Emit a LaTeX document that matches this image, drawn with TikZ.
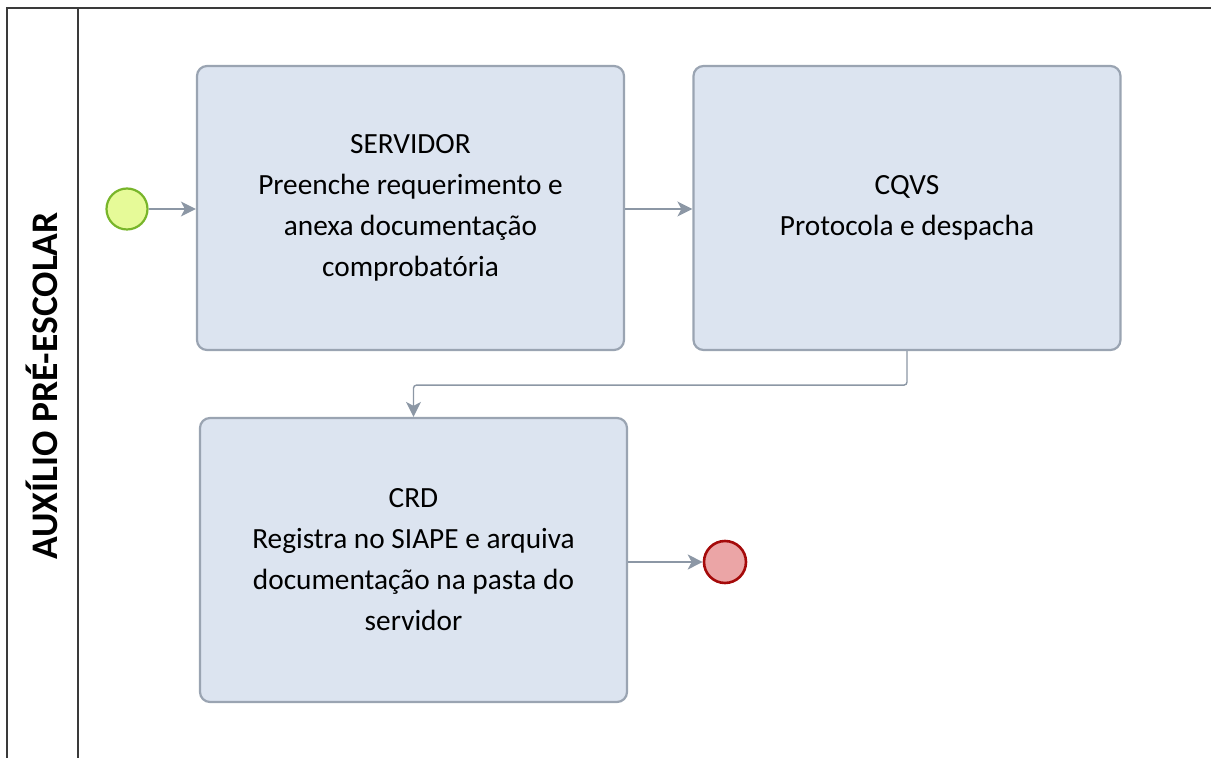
\documentclass[tikz,border=0pt]{standalone}
\usepackage{fontspec}
\setmainfont{Carlito}
\usetikzlibrary{arrows.meta}
\definecolor{boxfill}{HTML}{DCE4F0}
\definecolor{boxline}{HTML}{9AA4B2}
\definecolor{arrowc}{HTML}{8C97A5}
\definecolor{startfill}{HTML}{E6FA98}
\definecolor{startline}{HTML}{78B52A}
\definecolor{endfill}{HTML}{EBA5A6}
\definecolor{endline}{HTML}{A50A0A}
\definecolor{poolline}{HTML}{3A3A3A}
\tikzset{
  task/.style={draw=boxline, line width=2.2pt, fill=boxfill, rounded corners=10pt,
    minimum width=427pt, minimum height=284pt, align=center,
    font=\fontsize{29.3}{41}\selectfont, inner sep=0pt},
  startev/.style={circle, draw=startline, line width=2.2pt, fill=startfill, minimum size=41pt, inner sep=0pt},
  endev/.style={circle, draw=endline, line width=2.6pt, fill=endfill, minimum size=42pt, inner sep=0pt},
  flow/.style={draw=arrowc, line width=1.4pt, -{Stealth[length=15pt,width=15pt,inset=4pt]}},
  pool/.style={draw=poolline, line width=1.8pt},
  lanelabel/.style={font=\fontsize{37.5}{40}\selectfont\bfseries, rotate=90}
}
\begin{document}
\begin{tikzpicture}[x=1pt,y=1pt]
\useasboundingbox (0,0) rectangle (1211,758);
% pool
\draw[pool] (7,0) -- (7,750) -- (1211,750);
\draw[pool] (78,0) -- (78,750);
\node[lanelabel] (lane) at (42,372) {AUXÍLIO PRÉ-ESCOLAR};
% events and tasks
\node[startev] (start) at (127,549) {};
\node[task] (b1) at (410.5,550) {SERVIDOR\\Preenche requerimento e\\anexa documentação\\comprobatória};
\node[task] (b2) at (907,550) {CQVS\\Protocola e despacha};
\node[task] (b3) at (413.5,198) {CRD\\Registra no SIAPE e arquiva\\documentação na pasta do\\servidor};
\node[endev] (end) at (725,196) {};
% flows
\draw[flow] (start.east) -- (start.east -| b1.west);
\draw[flow] (b1.east |- 0,549) -- (b2.west |- 0,549);
\draw[flow, rounded corners=3pt] (b2.south) -- ++(0,-34) -| (b3.north);
\draw[flow] (end.west -| b3.east) -- (end.west);
\end{tikzpicture}
\end{document}
